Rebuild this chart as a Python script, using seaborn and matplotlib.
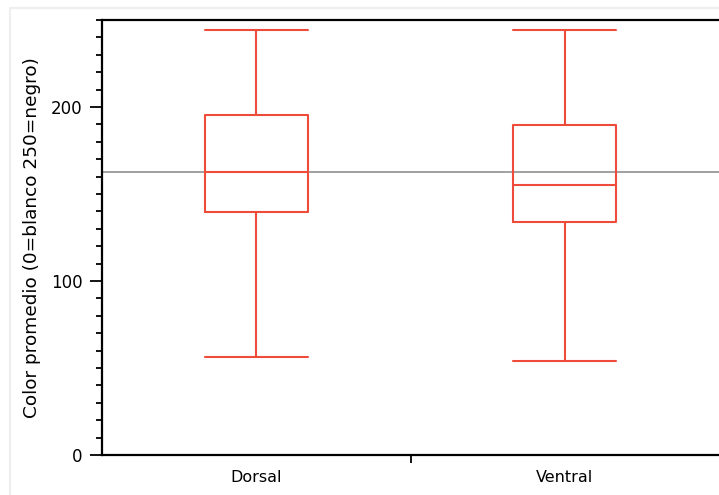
import numpy as np
import pandas as pd
import matplotlib
matplotlib.use('Agg')
import matplotlib.pyplot as plt
import seaborn as sns
from matplotlib.ticker import MultipleLocator, FixedLocator

# five-number summaries (min, Q1, median, Q3, max)
groups = ['Dorsal', 'Ventral']
dorsal_vals = [56.3, 139.7, 162.6, 195.4, 244.3]
ventral_vals = [54.0, 133.9, 155.2, 189.7, 244.3]
ref_line = 162.6
y_label = 'Color promedio (0=blanco 250=negro)'

df = pd.DataFrame({
    'grupo': [groups[0]] * len(dorsal_vals) + [groups[1]] * len(ventral_vals),
    'color': dorsal_vals + ventral_vals,
})

sns.set_style('white')
plt.rcParams['font.family'] = ['DejaVu Sans']
plt.rcParams['text.color'] = 'black'
plt.rcParams['axes.labelcolor'] = 'black'
plt.rcParams['xtick.color'] = 'black'
plt.rcParams['ytick.color'] = 'black'

box_col = '#EE4B3A'
fig = plt.figure(figsize=(7.19, 4.95), dpi=100)
ax = fig.add_axes([102 / 719, 40 / 495, 617 / 719, 435 / 495])

ax.axhline(ref_line, color='#999999', lw=1.3, zorder=0)
sns.boxplot(data=df, x='grupo', y='color', order=groups, ax=ax,
            fill=False, color=box_col, linecolor=box_col, linewidth=1.5,
            width=0.335, whis=(0, 100), capwidths=0.335)

ax.set_ylim(0, 250)
ax.set_xlim(-0.5, 1.5)
ax.yaxis.set_major_locator(MultipleLocator(100))
ax.yaxis.set_minor_locator(MultipleLocator(10))
ax.tick_params(axis='y', which='major', direction='out', length=9, width=1.3,
               labelsize=12, left=True, pad=5)
ax.tick_params(axis='y', which='minor', direction='out', length=4.5, width=1.3, left=True)

ax.set_xticks([0, 1])
ax.set_xticklabels(groups)
ax.xaxis.set_minor_locator(FixedLocator([0.5]))
ax.tick_params(axis='x', which='major', length=0, labelsize=11.5, pad=11)
ax.tick_params(axis='x', which='minor', direction='out', length=6, width=1.3, bottom=True)

ax.set_xlabel('')
ax.set_ylabel(y_label, fontsize=13.3, labelpad=7)

for side in ['left', 'bottom', 'top']:
    ax.spines[side].set_visible(True)
    ax.spines[side].set_color('black')
    ax.spines[side].set_linewidth(1.6)
ax.spines['right'].set_visible(False)

# faint outer frame of the original window
fig.add_artist(plt.Line2D([10 / 719, 10 / 719], [0, 1 - 8 / 495], color='#eeeeee', lw=1.5))
fig.add_artist(plt.Line2D([10 / 719, 1], [1 - 8 / 495, 1 - 8 / 495], color='#eeeeee', lw=1.5))

fig.savefig('out.png', dpi=100)
